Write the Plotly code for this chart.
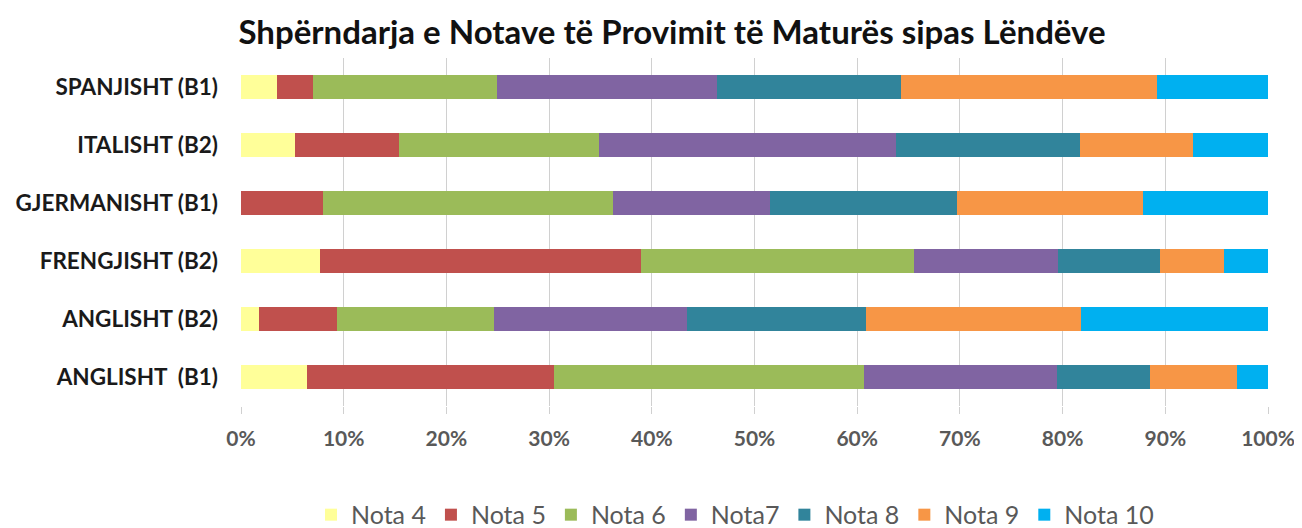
import plotly.graph_objects as go

categories = ["ANGLISHT  (B1)", "ANGLISHT (B2)", "FRENGJISHT (B2)",
              "GJERMANISHT (B1)", "ITALISHT (B2)", "SPANJISHT (B1)"]

series_names = ["Nota 4", "Nota 5", "Nota 6", "Nota7", "Nota 8", "Nota 9", "Nota 10"]

nota4 = [0.064, 0.018, 0.077, 0.0, 0.053, 0.035]
nota5 = [0.241, 0.075, 0.312, 0.080, 0.101, 0.035]
nota6 = [0.302, 0.153, 0.266, 0.282, 0.195, 0.179]
nota7 = [0.188, 0.188, 0.141, 0.153, 0.289, 0.214]
nota8 = [0.090, 0.175, 0.099, 0.182, 0.179, 0.180]
nota9 = [0.085, 0.209, 0.062, 0.181, 0.110, 0.249]
nota10 = [0.030, 0.183, 0.043, 0.122, 0.073, 0.108]

values = [nota4, nota5, nota6, nota7, nota8, nota9, nota10]
colors = ["#FFFF99", "#C0504D", "#9BBB59", "#8064A2", "#31849B", "#F79646", "#00B0F0"]

FONT = "Lato, Open Sans, sans-serif"

fig = go.Figure()
for name, vals, col in zip(series_names, values, colors):
    fig.add_trace(go.Bar(
        y=categories, x=vals, name=name, orientation="h",
        marker=dict(color=col, line=dict(width=0)),
        width=0.43,
    ))

fig.update_layout(
    barmode="stack",
    width=1302, height=528,
    margin=dict(l=233, r=42, t=50, b=130, autoexpand=False),
    paper_bgcolor="white", plot_bgcolor="white",
    font=dict(family=FONT),
    title=dict(text="<b>Shpërndarja e Notave të Provimit të Maturës sipas Lëndëve</b>",
               x=0.51, xanchor="center", y=0.953, yanchor="middle",
               font=dict(size=33, color="#111111", family=FONT)),
    xaxis=dict(range=[0, 1], tickformat=".0%", dtick=0.1,
               showgrid=True, gridcolor="#D0D0D0", gridwidth=1,
               zeroline=False, ticks="outside", ticklen=7, tickcolor="#D0D0D0",
               tickfont=dict(size=21, color="#595959", family=FONT),
               ticklabelstandoff=7, fixedrange=True,
               tickprefix="<b>", ticksuffix="</b>"),
    yaxis=dict(tickfont=dict(size=22.5, color="#1a1a1a", family=FONT),
               ticklabelstandoff=22, showgrid=False, fixedrange=True,
               tickprefix="<b>", ticksuffix="</b>"),
    legend=dict(orientation="h", x=0.481, xanchor="center", y=-0.313, yanchor="middle",
                font=dict(size=25, color="#595959", family=FONT),
                traceorder="normal", itemwidth=30, tracegroupgap=0),
    showlegend=True,
)

fig.write_html("out.html")
